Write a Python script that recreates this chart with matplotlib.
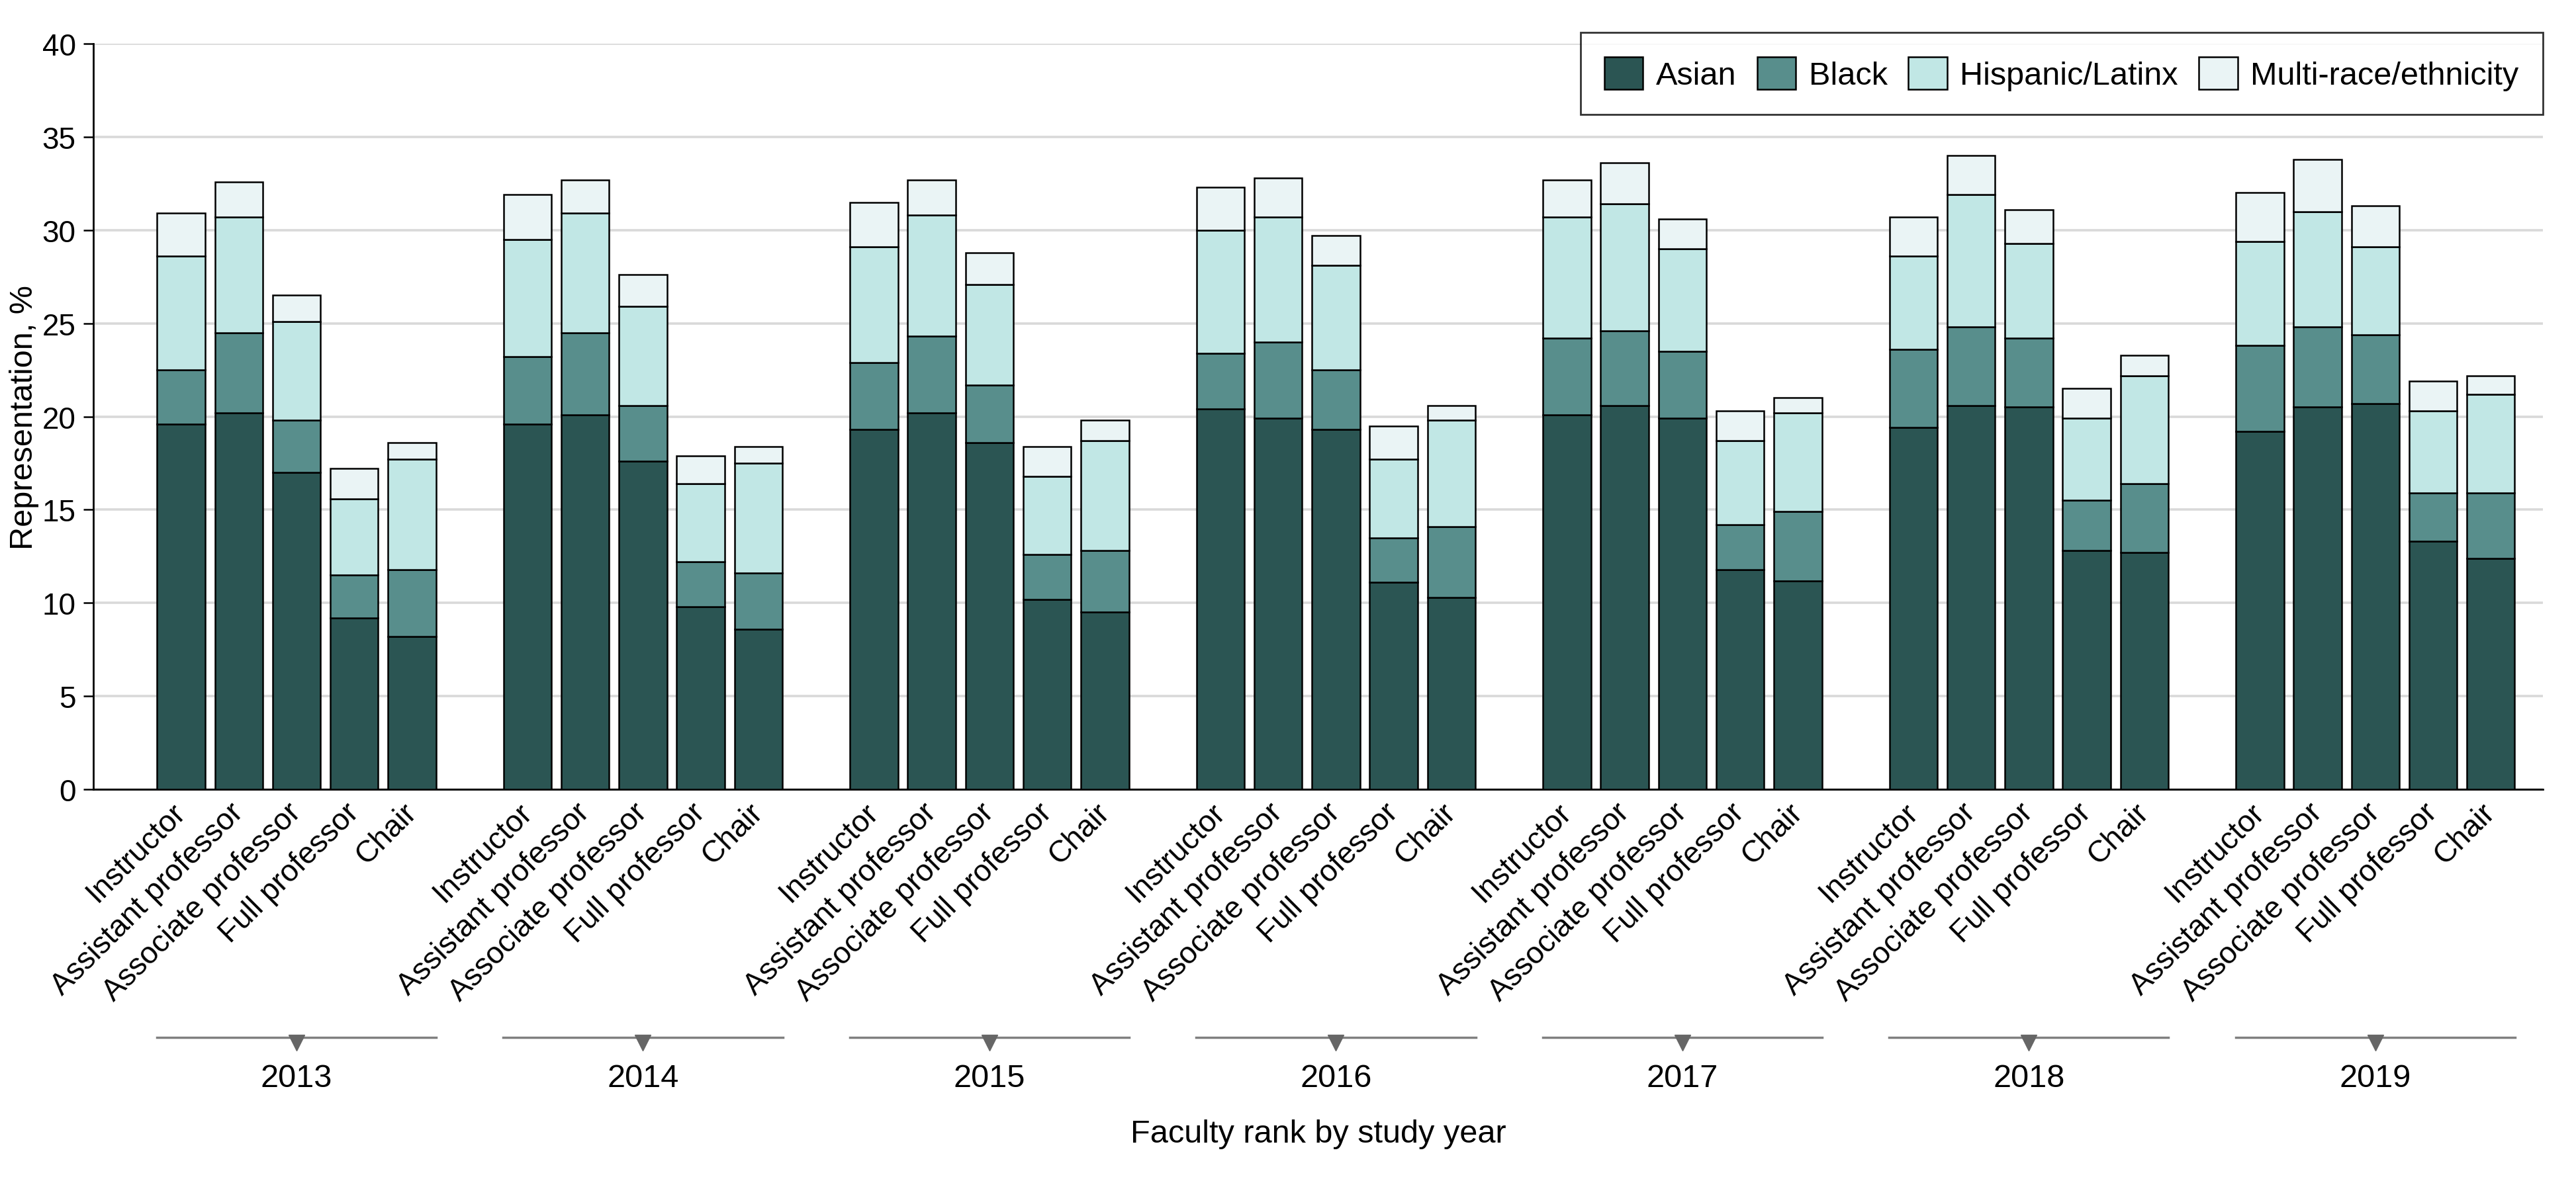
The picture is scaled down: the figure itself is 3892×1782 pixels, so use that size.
import matplotlib.pyplot as plt
from matplotlib.patches import Patch

plt.rcParams['font.family'] = ['Liberation Sans', 'DejaVu Sans']

years = ['2013', '2014', '2015', '2016', '2017', '2018', '2019']
ranks = ['Instructor', 'Assistant professor', 'Associate professor', 'Full professor', 'Chair']
groups = ['Asian', 'Black', 'Hispanic/Latinx', 'Multi-race/ethnicity']

# representation (%) per year, ranks in the order above
asian = [
    [19.6, 20.2, 17.0, 9.2, 8.2],
    [19.6, 20.1, 17.6, 9.8, 8.6],
    [19.3, 20.2, 18.6, 10.2, 9.5],
    [20.4, 19.9, 19.3, 11.1, 10.3],
    [20.1, 20.6, 19.9, 11.8, 11.2],
    [19.4, 20.6, 20.5, 12.8, 12.7],
    [19.2, 20.5, 20.7, 13.3, 12.4],
]
black = [
    [2.9, 4.3, 2.8, 2.3, 3.6],
    [3.6, 4.4, 3.0, 2.4, 3.0],
    [3.6, 4.1, 3.1, 2.4, 3.3],
    [3.0, 4.1, 3.2, 2.4, 3.8],
    [4.1, 4.0, 3.6, 2.4, 3.7],
    [4.2, 4.2, 3.7, 2.7, 3.7],
    [4.6, 4.3, 3.7, 2.6, 3.5],
]
hispanic = [
    [6.1, 6.2, 5.3, 4.1, 5.9],
    [6.3, 6.4, 5.3, 4.2, 5.9],
    [6.2, 6.5, 5.4, 4.2, 5.9],
    [6.6, 6.7, 5.6, 4.2, 5.7],
    [6.5, 6.8, 5.5, 4.5, 5.3],
    [5.0, 7.1, 5.1, 4.4, 5.8],
    [5.6, 6.2, 4.7, 4.4, 5.3],
]
multi = [
    [2.3, 1.9, 1.4, 1.6, 0.9],
    [2.4, 1.8, 1.7, 1.5, 0.9],
    [2.4, 1.9, 1.7, 1.6, 1.1],
    [2.3, 2.1, 1.6, 1.8, 0.8],
    [2.0, 2.2, 1.6, 1.6, 0.8],
    [2.1, 2.1, 1.8, 1.6, 1.1],
    [2.6, 2.8, 2.2, 1.6, 1.0],
]

colors = ['#2b5553', '#588e8c', '#c1e7e5', '#eaf4f5']
series = [asian, black, hispanic, multi]
fs = 35

fig = plt.figure(figsize=(38.92, 17.83), dpi=100)
ax = fig.add_axes([0.0362, 0.3303, 0.9509, 0.6321])

xs = []
for g in range(len(years)):
    for i in range(len(ranks)):
        xs.append(g * 6 + i)

bottom = [0.0] * len(xs)
for data, col in zip(series, colors):
    vals = [v for row in data for v in row]
    ax.bar(xs, vals, width=0.83, bottom=bottom, color=col,
           edgecolor='black', linewidth=1.8, zorder=3)
    bottom = [b + v for b, v in zip(bottom, vals)]

ax.set_xlim(-1.52, 40.9)
ax.set_ylim(0, 40)
ax.set_yticks(range(0, 41, 5))
ax.yaxis.grid(True, color='#d9d9d9', linewidth=2.6)
ax.set_axisbelow(True)
for s in ['top', 'right']:
    ax.spines[s].set_visible(False)
ax.spines['left'].set_linewidth(2)
ax.spines['bottom'].set_linewidth(2)
ax.tick_params(axis='y', labelsize=33, length=11, width=1.8, pad=8)
ax.tick_params(axis='x', length=0, pad=20)
ax.set_xticks(xs)
ax.set_xticklabels(ranks * len(years), rotation=45, ha='right', va='center',
                   rotation_mode='anchor', fontsize=33)
ax.set_ylabel('Representation, %', fontsize=fs)
ax.yaxis.set_label_coords(-0.022, 0.5)

# year brackets under the rank labels
trans = ax.get_xaxis_transform()
for g, yr in enumerate(years):
    x0 = g * 6 - 0.42
    x1 = g * 6 + 4 + 0.42
    xc = g * 6 + 2
    ax.plot([x0, x1], [-0.333, -0.333], transform=trans, color='#808080',
            linewidth=2.5, clip_on=False)
    ax.plot([xc], [-0.340], transform=trans, marker='v', markersize=17,
            color='#666666', clip_on=False)
    ax.text(xc, -0.387, yr, transform=trans, ha='center', va='center', fontsize=fs)

ax.text(0.5, -0.462, 'Faculty rank by study year', transform=ax.transAxes,
        ha='center', va='center', fontsize=fs)

handles = [Patch(facecolor=c, edgecolor='black', linewidth=1.8) for c in colors]
leg = ax.legend(handles, groups, loc='upper right', bbox_to_anchor=(1.0, 1.015),
                borderaxespad=0, ncol=4, fontsize=fs, frameon=True, fancybox=False,
                handlelength=1.2, handleheight=1.2, handletextpad=0.4,
                columnspacing=0.65, borderpad=0.75)
leg.get_frame().set_edgecolor('black')
leg.get_frame().set_linewidth(2)
leg.set_zorder(5)

fig.savefig('out.png', dpi=100)
